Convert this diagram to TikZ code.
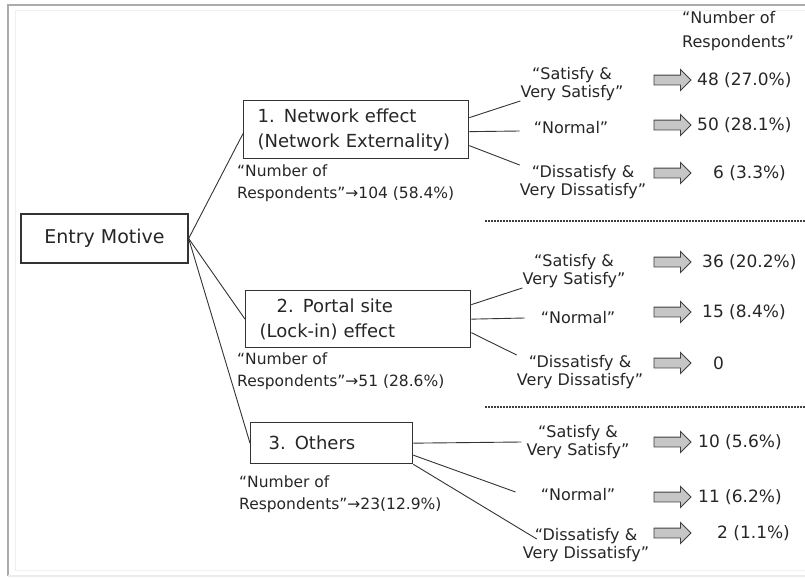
\documentclass[tikz,border=0pt]{standalone}
\usepackage{fontspec}
\setmainfont{DejaVu Sans}
\usetikzlibrary{shapes.arrows}

\tikzset{
	motive/.style={draw=black!80, line width=1.3pt, minimum width=167pt, minimum height=49pt, inner sep=0pt, font=\fontsize{19}{22}\selectfont},
	effect/.style={draw=black!80, line width=1.3pt, inner ysep=0pt, inner xsep=14pt, align=left, anchor=north west, font=\fontsize{18}{25}\selectfont},
	count/.style={align=left, anchor=west, inner sep=0pt, font=\fontsize{15.5}{22}\selectfont},
	answer/.style={align=center, inner sep=0pt, font=\fontsize{16}{18}\selectfont},
	result/.style={anchor=west, inner sep=0pt, font=\fontsize{17}{20}\selectfont},
	fatarrow/.style={single arrow, draw=black!75, fill=gray!45, minimum height=37pt, inner xsep=0pt, inner ysep=4.5pt, single arrow head extend=5.5pt, line width=0.9pt},
	branch/.style={black!80, line width=0.9pt},
	sep/.style={black!75, line width=1.4pt, dash pattern=on 2pt off 1pt},
}

\begin{document}
\begin{tikzpicture}[x=1pt, y=-1pt, text=black!85]
	\useasboundingbox (0,0) rectangle (805,578);
	% frame
	\draw[gray!65, line width=2.5pt] (805,5) -- (8,5) -- (8,576);
	\draw[gray!15, line width=1.5pt] (8,576) -- (805,576);
	\draw[gray!12, line width=1pt] (805,11) -- (15,11) -- (15,570) -- (805,570);

	\node[motive] (motive) at (104.5,238.5) {Entry Motive};
	\node[effect, text width=197pt, minimum height=58pt] (net) at (243,100) {1. Network effect\\(Network Externality)};
	\node[effect, text width=197pt, minimum height=57pt] (portal) at (245,290) {\hspace{17pt}2. Portal site\\(Lock-in) effect};
	\node[effect, text width=134pt, minimum height=41pt] (others) at (250,422) {\hspace{4pt}3. Others};

	\draw[branch] (motive.east) -- ([yshift=-4pt]net.west);
	\draw[branch] (motive.east) -- (portal.west);
	\draw[branch] (motive.east) -- (others.west);

	\node[count] (cnt1) at (237,183) {“Number of\\Respondents”→104 (58.4\%)};
	\node[count] (cnt2) at (237,371) {“Number of\\Respondents”→51 (28.6\%)};
	\node[count] (cnt3) at (239,494) {“Number of\\Respondents”→23(12.9\%)};

	\node[count, font=\fontsize{16}{24}\selectfont] (head) at (682,31) {“Number of\\Respondents”};

	% answers of group 1
	\node[answer] (sat1) at (572,84) {“Satisfy \&\\Very Satisfy”};
	\node[answer] (nor1) at (571,128) {“Normal”};
	\node[answer] (dis1) at (583,182) {“Dissatisfy \&\\Very Dissatisfy”};
	\draw[branch] ([yshift=12pt]net.east) -- (sat1.south west);
	\draw[branch] ([yshift=-2pt]net.east) -- ([xshift=-14pt,yshift=-3pt]nor1.west);
	\draw[branch] ([yshift=-16pt]net.east) -- (dis1.north west);

	% answers of group 2
	\node[answer] (sat2) at (574,271) {“Satisfy \&\\Very Satisfy”};
	\node[answer] (nor2) at (578,318) {“Normal”};
	\node[answer] (dis2) at (580,372) {“Dissatisfy \&\\Very Dissatisfy”};
	\draw[branch] ([yshift=14.5pt]portal.east) -- (sat2.south west);
	\draw[branch] (portal.east) -- ([xshift=-16pt]nor2.west);
	\draw[branch] ([yshift=-13.5pt]portal.east) -- (dis2.north west);

	% answers of group 3
	\node[answer] (sat3) at (578,442) {“Satisfy \&\\Very Satisfy”};
	\node[answer] (nor3) at (578,495) {“Normal”};
	\node[answer] (dis3) at (586,545) {“Dissatisfy \&\\Very Dissatisfy”};
	\draw[branch] (others.east) -- ([xshift=-5pt]sat3.west);
	\draw[branch] ([yshift=-12pt]others.east) -- ([xshift=-25pt,yshift=3pt]nor3.west);
	\draw[branch] (others.south east) -- ([xshift=14pt,yshift=6pt]dis3.west);

	\draw[sep] (485,221) -- (805,221);
	\draw[sep] (485,407) -- (805,407);

	\foreach \n/\y/\x/\t in {r11/80/697/{48 (27.0\%)}, r12/125/697/{50 (28.1\%)}, r13/173/713/{6 (3.3\%)},
		r21/262/702/{36 (20.2\%)}, r22/312/702/{15 (8.4\%)}, r23/363/713/{0},
		r31/442/698/{10 (5.6\%)}, r32/497/698/{11 (6.2\%)}, r33/533/717/{2 (1.1\%)}}
	{ \node[fatarrow] (a\n) at (670,\y) {};
		\node[result] (\n) at (\x,\y) {\t};
	}
\end{tikzpicture}
\end{document}
